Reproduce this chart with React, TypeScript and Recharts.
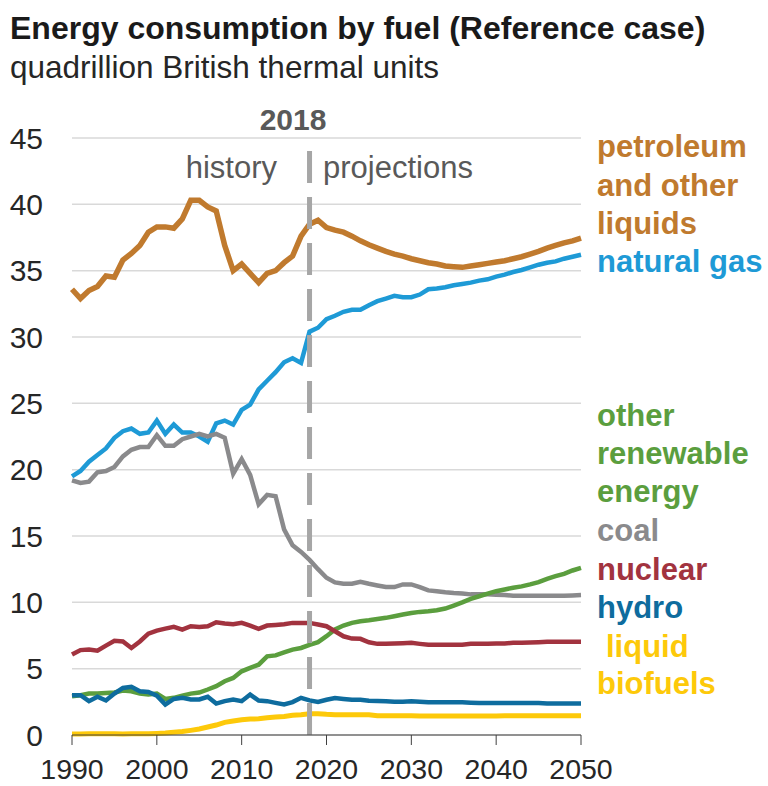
import React from 'react';
import {
  LineChart,
  Line,
  XAxis,
  YAxis,
  CartesianGrid,
  ReferenceLine,
} from 'recharts';

// years 1990-2050, history through 2018, projections after
const years: number[] = Array.from({ length: 61 }, (_, i) => 1990 + i);

const xTicks = [1990, 2000, 2010, 2020, 2030, 2040, 2050];
const yTicks = [0, 5, 10, 15, 20, 25, 30, 35, 40, 45];

const petroleum = [
  33.6, 32.9, 33.5, 33.8, 34.6, 34.5, 35.8, 36.3, 36.9, 37.9,
  38.3, 38.3, 38.2, 38.9, 40.3, 40.3, 39.8, 39.5, 36.9, 35.0,
  35.5, 34.8, 34.1, 34.8, 35.0, 35.6, 36.1, 37.6, 38.5, 38.8,
  38.25, 38.05, 37.9, 37.6, 37.25, 36.95, 36.7, 36.45, 36.25, 36.1,
  35.9, 35.75, 35.6, 35.5, 35.35, 35.3, 35.25, 35.35, 35.45, 35.55,
  35.65, 35.75, 35.9, 36.05, 36.25, 36.45, 36.7, 36.9, 37.1, 37.25,
  37.45,
];

const naturalGas = [
  19.5, 19.9, 20.6, 21.1, 21.6, 22.4, 22.9, 23.1, 22.7, 22.8,
  23.7, 22.7, 23.4, 22.8, 22.8, 22.5, 22.1, 23.5, 23.7, 23.4,
  24.5, 24.9, 26.05, 26.7, 27.35, 28.1, 28.4, 28.05, 30.4, 30.7,
  31.35, 31.6, 31.9, 32.05, 32.05, 32.4, 32.7, 32.9, 33.1, 33.0,
  33.0, 33.2, 33.6, 33.65, 33.75, 33.9, 34.0, 34.1, 34.25, 34.35,
  34.55, 34.7, 34.9, 35.05, 35.25, 35.45, 35.6, 35.7, 35.9, 36.05,
  36.2,
];

const coal = [
  19.2, 19.0, 19.1, 19.8, 19.9, 20.2, 21.0, 21.5, 21.7, 21.7,
  22.6, 21.8, 21.8, 22.3, 22.5, 22.7, 22.5, 22.7, 22.4, 19.7,
  20.8, 19.6, 17.4, 18.1, 18.0, 15.5, 14.3, 13.8, 13.2, 12.5,
  11.85, 11.5, 11.4, 11.4, 11.55, 11.4, 11.27, 11.15, 11.15, 11.35,
  11.35, 11.15, 10.9, 10.84, 10.76, 10.7, 10.67, 10.6, 10.6, 10.6,
  10.57, 10.55, 10.5, 10.5, 10.5, 10.5, 10.5, 10.5, 10.5, 10.52,
  10.55,
];

const otherRenewable = [
  2.92, 3.0, 3.12, 3.12, 3.17, 3.2, 3.35, 3.3, 3.12, 3.05,
  3.12, 2.72, 2.8, 2.97, 3.12, 3.2, 3.43, 3.68, 4.05, 4.3,
  4.8, 5.06, 5.3, 5.93, 6.0, 6.23, 6.44, 6.56, 6.8, 7.0,
  7.45, 7.95, 8.25, 8.45, 8.57, 8.65, 8.75, 8.83, 8.95, 9.08,
  9.2, 9.28, 9.33, 9.4, 9.53, 9.76, 10.0, 10.26, 10.46, 10.66,
  10.84, 10.97, 11.1, 11.2, 11.35, 11.52, 11.77, 11.97, 12.15, 12.4,
  12.6,
];

const nuclear = [
  6.06, 6.4, 6.45, 6.36, 6.74, 7.1, 7.05, 6.56, 7.05, 7.64,
  7.87, 8.02, 8.15, 7.94, 8.2, 8.15, 8.2, 8.5, 8.4, 8.35,
  8.45, 8.25, 8.0, 8.25, 8.3, 8.35, 8.45, 8.45, 8.45, 8.33,
  8.2, 7.82, 7.44, 7.27, 7.25, 6.99, 6.87, 6.87, 6.9, 6.92,
  6.95, 6.87, 6.8, 6.8, 6.8, 6.8, 6.8, 6.87, 6.87, 6.87,
  6.9, 6.9, 6.95, 6.95, 6.97, 6.99, 7.02, 7.02, 7.02, 7.02,
  7.02,
];

const hydro = [
  3.0, 3.0, 2.55, 2.88, 2.6, 3.12, 3.55, 3.63, 3.3, 3.25,
  2.97, 2.3, 2.72, 2.8, 2.68, 2.68, 2.88, 2.37, 2.55, 2.68,
  2.55, 3.05, 2.6, 2.55, 2.42, 2.3, 2.48, 2.8, 2.61, 2.49,
  2.66, 2.79, 2.72, 2.66, 2.66, 2.59, 2.57, 2.54, 2.51, 2.51,
  2.54, 2.51, 2.46, 2.46, 2.46, 2.46, 2.46, 2.44, 2.41, 2.41,
  2.41, 2.41, 2.41, 2.41, 2.41, 2.41, 2.38, 2.38, 2.38, 2.38,
  2.38,
];

const liquidBiofuels = [
  0.08, 0.08, 0.09, 0.09, 0.1, 0.1, 0.08, 0.1, 0.1, 0.1,
  0.12, 0.15, 0.2, 0.26, 0.35, 0.45, 0.6, 0.75, 0.95, 1.05,
  1.15, 1.2, 1.22, 1.3, 1.35, 1.4, 1.48, 1.52, 1.6, 1.61,
  1.56, 1.53, 1.53, 1.53, 1.53, 1.53, 1.46, 1.46, 1.46, 1.46,
  1.46, 1.43, 1.43, 1.43, 1.43, 1.43, 1.43, 1.43, 1.43, 1.43,
  1.43, 1.46, 1.46, 1.46, 1.46, 1.46, 1.46, 1.46, 1.46, 1.46,
  1.46,
];

const font = '"Liberation Sans", Arial, Helvetica, sans-serif';

const series = [
  { key: 'petroleum', color: '#C07A2E', width: 5.5 },
  { key: 'naturalGas', color: '#1E9AD6', width: 4.5 },
  { key: 'coal', color: '#8A8A8C', width: 4.5 },
  { key: 'otherRenewable', color: '#5B9E3E', width: 4.5 },
  { key: 'nuclear', color: '#A2333F', width: 4.5 },
  { key: 'hydro', color: '#0E6C9E', width: 4.5 },
  { key: 'liquidBiofuels', color: '#FDC90A', width: 5 },
];

// right-hand labels, one line each
const labelLines = [
  { text: 'petroleum', color: '#C07A2E', y: 157 },
  { text: 'and other', color: '#C07A2E', y: 196 },
  { text: 'liquids', color: '#C07A2E', y: 234 },
  { text: 'natural gas', color: '#1E9AD6', y: 272 },
  { text: 'other', color: '#5B9E3E', y: 426 },
  { text: 'renewable', color: '#5B9E3E', y: 464 },
  { text: 'energy', color: '#5B9E3E', y: 502 },
  { text: 'coal', color: '#8A8A8C', y: 541 },
  { text: 'nuclear', color: '#A2333F', y: 580 },
  { text: 'hydro', color: '#0E6C9E', y: 618 },
  { text: 'liquid', color: '#FDC90A', y: 657, dx: 9 },
  { text: 'biofuels', color: '#FDC90A', y: 694 },
];

const data = years.map((year, i) => ({
  year,
  petroleum: petroleum[i],
  naturalGas: naturalGas[i],
  coal: coal[i],
  otherRenewable: otherRenewable[i],
  nuclear: nuclear[i],
  hydro: hydro[i],
  liquidBiofuels: liquidBiofuels[i],
}));

export default function App() {
  return (
    <div style={{ position: 'absolute', left: 0, top: 0, width: 768, height: 786, background: '#fff', fontFamily: font }}>
      <LineChart
        width={768}
        height={786}
        data={data}
        margin={{ top: 138, right: 187, bottom: 1, left: 8 }}
      >
        <CartesianGrid vertical={false} stroke="#D9D9D9" strokeWidth={1.5} />
        <XAxis
          dataKey="year"
          type="number"
          domain={[1990, 2050]}
          ticks={xTicks}
          height={50}
          stroke="#404040"
          tickSize={10}
          tickMargin={14}
          tick={{ fontSize: 28.5, fill: '#262626', fontFamily: font }}
        />
        <YAxis
          domain={[0, 45]}
          ticks={yTicks}
          width={64}
          axisLine={false}
          tickLine={false}
          tickSize={0}
          tickMargin={29}
          tick={{ fontSize: 30, fill: '#262626', fontFamily: font }}
        />
        {series.map((s) => (
          <Line
            key={s.key}
            dataKey={s.key}
            type="linear"
            stroke={s.color}
            strokeWidth={s.width}
            dot={false}
            activeDot={false}
            isAnimationActive={false}
          />
        ))}
        <ReferenceLine x={2018} stroke="#A6A6A6" strokeWidth={5} strokeDasharray="32 14" />
      </LineChart>

      <svg
        width={768}
        height={786}
        style={{ position: 'absolute', left: 0, top: 0, pointerEvents: 'none' }}
        fontFamily={font}
      >
        <text x={10} y={39} fontSize={32} fontWeight="bold" fill="#1A1A1A">
          Energy consumption by fuel (Reference case)
        </text>
        <text x={10} y={78} fontSize={31.5} fill="#262626">
          quadrillion British thermal units
        </text>
        <text x={293} y={130} fontSize={30} fontWeight="bold" fill="#595959" textAnchor="middle">
          2018
        </text>
        <text x={277} y={178} fontSize={31} fill="#595959" textAnchor="end">
          history
        </text>
        <text x={323} y={178} fontSize={31} fill="#595959">
          projections
        </text>
        {labelLines.map((l) => (
          <text
            key={l.text}
            x={597 + (l.dx || 0)}
            y={l.y}
            fontSize={31}
            fontWeight="bold"
            fill={l.color}
          >
            {l.text}
          </text>
        ))}
      </svg>
    </div>
  );
}
